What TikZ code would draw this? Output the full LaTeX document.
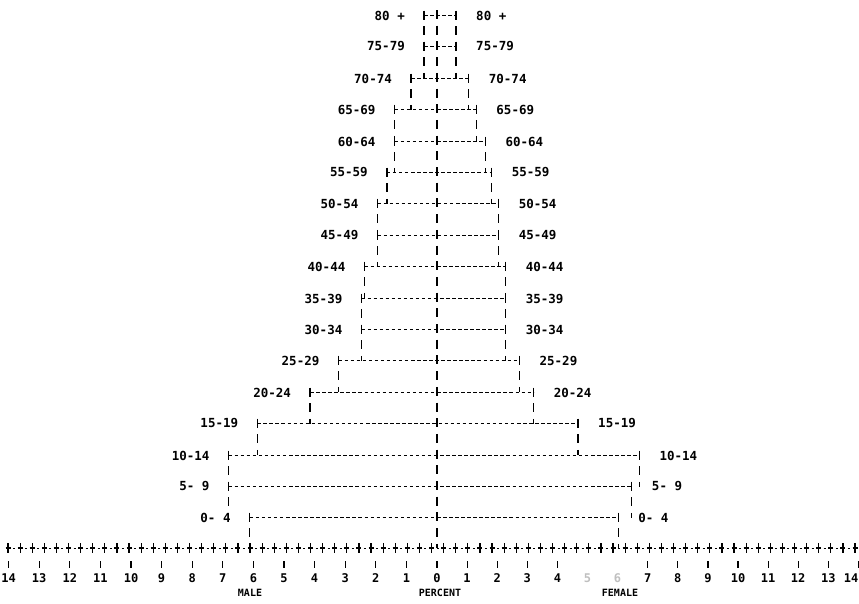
\documentclass[tikz,border=0pt]{standalone}
\usepackage{fontspec}
\setmonofont{DejaVu Sans Mono}
\usetikzlibrary{positioning,calc}
\tikzstyle{agelabel}=[font=\ttfamily\bfseries\fontsize{12.5}{12.5}\selectfont,inner sep=0pt]
\tikzstyle{num}=[font=\ttfamily\bfseries\fontsize{12}{12}\selectfont,inner sep=0pt]
\tikzstyle{title}=[font=\ttfamily\bfseries\fontsize{10}{10}\selectfont,inner sep=0pt]
\tikzstyle{bar} = [draw=black,line width=1.5pt,dash pattern=on 3.5pt off 2.54pt]
\tikzstyle{side} = [draw=black,line width=1.4pt,dash pattern=on 9pt off 6.7pt]
\tikzstyle{tick} = [draw=black,line width=1.2pt]

\begin{document}
\begin{tikzpicture}[x=1pt,y=-1pt]
  \useasboundingbox (0,0) rectangle (859,603);
  \def\cx{437} \def\u{30.2} \def\h{31.4}
  \def\ul{30.6} \def\ur{30.1}

  % Age groups: row / label / male / female
  \foreach \i / \age / \m / \f in {0/80 +/0.43/0.63, 1/75-79/0.43/0.63,
                                   2/70-74/0.86/1.05, 3/65-69/1.4/1.3,
                                   4/60-64/1.4/1.6, 5/55-59/1.66/1.81,
                                   6/50-54/1.97/2.04, 7/45-49/1.97/2.04,
                                   8/40-44/2.4/2.27, 9/35-39/2.5/2.27,
                                   10/30-34/2.5/2.27, 11/25-29/3.26/2.73,
                                   12/20-24/4.2/3.2, 13/15-19/5.95/4.67,
                                   14/10-14/6.9/6.7, 15/5- 9/6.9/6.45,
                                   16/0- 4/6.2/6.0}
  {
    \pgfmathsetmacro{\y}{round(15+\h*\i)+0.5}
    \coordinate (m\i) at ({\cx-\m*\u},\y);
    \coordinate (f\i) at ({\cx+\f*\u},\y);
    \path[bar] (m\i) -- (f\i);
    \path[side] ($(m\i)+(0,-5)$) -- ++(0,\h+5);
    \path[side] ($(f\i)+(0,-5)$) -- ++(0,\h+5);
    \node[agelabel,left=19pt of m\i] (ml\i) {\age};
    \node[agelabel,right=20pt of f\i] (fl\i) {\age};
  }

  % Centre line
  \coordinate (top) at (\cx,10);
  \coordinate (base) at (\cx,548);
  \path[side] (top) -- (base);

  % Axis
  \foreach \k in {0,...,70}
  {
    \pgfmathsetmacro{\x}{8+12.1*\k}
    \draw[tick] (\x,543) -- (\x,553) (\x-2.5,548) -- (\x+2.5,548);
    \draw[tick,line width=0.9pt] (\x+5,548) -- (\x+7,548);
  }
  \foreach \k in {0,...,14}
    \draw[tick] ({\cx-\k*\ul},561) -- ++(0,7);
  \foreach \k in {1,...,4,7,8,...,14}
    \draw[tick] ({\cx+\k*\ur},561) -- ++(0,7);

  \foreach \k in {1,...,14}
  {
    \node[num] (nm\k) at ({\cx-\k*\ul},578) {\k};
    \ifnum\k=5 \node[num,text=black!25] (nf\k) at ({\cx+\k*\ur},578) {\k};
    \else\ifnum\k=6 \node[num,text=black!25] (nf\k) at ({\cx+\k*\ur},578) {\k};
    \else \node[num] (nf\k) at ({min(\cx+\k*\ur,851)},578) {\k};\fi\fi
  }
  \node[num] (n0) at (\cx,578) {0};

  \node[title] (male) at (250,593) {MALE};
  \node[title] (percent) at (440,593) {PERCENT};
  \node[title] (female) at (620,593) {FEMALE};
\end{tikzpicture}
\end{document}
